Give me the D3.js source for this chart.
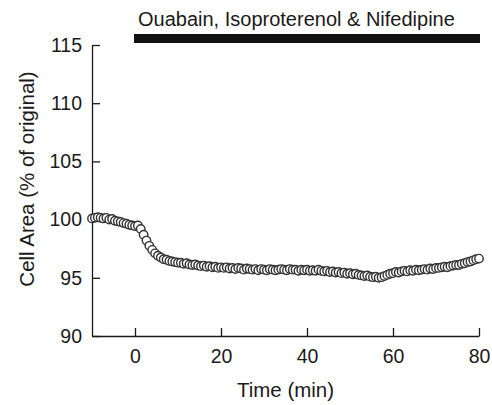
<!DOCTYPE html>
<html>
<head>
<meta charset="utf-8">
<script src="https://cdn.jsdelivr.net/npm/d3@7"></script>
<style>
  body { margin: 0; background: #fff; }
  text { font-family: "Liberation Sans", Arial, sans-serif; fill: #1a1a1a; }
</style>
</head>
<body>
<div id="chart"></div>
<script>
// sampling: one reading every 40 s starting at -10 min
const startTime = -10;
const stepMin = 2 / 3;

// cell area, % of original
const cellArea = [
  100.1, 100.15, 100.2, 100.15, 100.1, 100.15, 100.0, 100.05, 99.9, 99.85,
  99.8, 99.7, 99.65, 99.55, 99.5, 99.45, 99.5, 99.2, 98.7, 98.2,
  97.75, 97.4, 97.1, 96.9, 96.75, 96.6, 96.55, 96.45, 96.4, 96.35,
  96.3, 96.3, 96.2, 96.25, 96.15, 96.1, 96.15, 96.05, 96.0, 96.05,
  95.95, 96.0, 95.9, 95.95, 95.85, 95.9, 95.85, 95.9, 95.8, 95.85,
  95.75, 95.85, 95.8, 95.7, 95.8, 95.75, 95.7, 95.75, 95.65, 95.75,
  95.7, 95.65, 95.75, 95.7, 95.65, 95.7, 95.75, 95.7, 95.65, 95.75,
  95.7, 95.7, 95.6, 95.7, 95.65, 95.7, 95.6, 95.65, 95.6, 95.7,
  95.6, 95.55, 95.6, 95.5, 95.55, 95.45, 95.5, 95.4, 95.45, 95.35,
  95.4, 95.3, 95.35, 95.25, 95.2, 95.15, 95.2, 95.1, 95.05, 95.1,
  95.0, 95.05, 95.15, 95.25, 95.35, 95.4, 95.5, 95.45, 95.55, 95.6,
  95.55, 95.65, 95.6, 95.7, 95.65, 95.7, 95.75, 95.7, 95.8, 95.75,
  95.85, 95.85, 95.9, 95.95, 95.9, 96.0, 96.05, 96.1, 96.1, 96.2,
  96.25, 96.35, 96.4, 96.5, 96.6, 96.65
];

const xTicks = [0, 20, 40, 60, 80];
const yTicks = [90, 95, 100, 105, 110, 115];
const drugLabel = 'Ouabain, Isoproterenol & Nifedipine';
const drugPeriod = [0, 80];

const graphicData = cellArea.map((v, i) => ({time: startTime + i * stepMin, area: v}));

const width = 492;
const height = 405;
const margin = {top: 45, right: 13, bottom: 69, left: 92};

const svg = d3.select('#chart')
    .append('svg')
    .attr('width', width)
    .attr('height', height);

const x = d3.scaleLinear()
    .domain([-10, 80])
    .range([margin.left, width - margin.right]);

const y = d3.scaleLinear()
    .domain([90, 115])
    .range([height - margin.bottom, margin.top]);

const xAxis = d3.axisBottom(x)
    .tickValues(xTicks)
    .tickSizeInner(-8)
    .tickSizeOuter(0)
    .tickPadding(13);

const yAxis = d3.axisLeft(y)
    .tickValues(yTicks)
    .tickSizeInner(-8)
    .tickSizeOuter(0)
    .tickPadding(10);

const gx = svg.append('g')
    .attr('transform', `translate(0,${height - margin.bottom})`)
    .call(xAxis);

const gy = svg.append('g')
    .attr('transform', `translate(${margin.left},0)`)
    .call(yAxis);

[gx, gy].forEach(g => {
    g.selectAll('path, line').attr('stroke', '#1a1a1a').attr('stroke-width', 1.3);
    g.selectAll('text')
        .attr('fill', '#1a1a1a')
        .style('font-family', '"Liberation Sans", Arial, sans-serif')
        .style('font-size', '19.5px');
});

svg.append('text')
    .attr('x', (x(-10) + x(80)) / 2)
    .attr('y', 397)
    .attr('text-anchor', 'middle')
    .style('font-size', '20.5px')
    .text('Time (min)');

svg.append('text')
    .attr('transform', 'rotate(-90)')
    .attr('x', -179)
    .attr('y', 34)
    .attr('text-anchor', 'middle')
    .style('font-size', '20.5px')
    .text('Cell Area (% of original)');

// drug application bar
svg.append('rect')
    .attr('x', x(drugPeriod[0]) - 1)
    .attr('y', 34)
    .attr('width', x(drugPeriod[1]) - x(drugPeriod[0]) + 2)
    .attr('height', 9)
    .attr('fill', '#111');

svg.append('text')
    .attr('x', x(drugPeriod[0]) + 3)
    .attr('y', 26)
    .style('font-size', '20px')
    .text(drugLabel);

svg.selectAll('circle')
    .data(graphicData)
    .enter()
    .append('circle')
    .attr('cx', d => x(d.time))
    .attr('cy', d => y(d.area))
    .attr('r', 4.2)
    .attr('fill', '#fff')
    .attr('stroke', '#333')
    .attr('stroke-width', 1.4);
</script>
</body>
</html>
